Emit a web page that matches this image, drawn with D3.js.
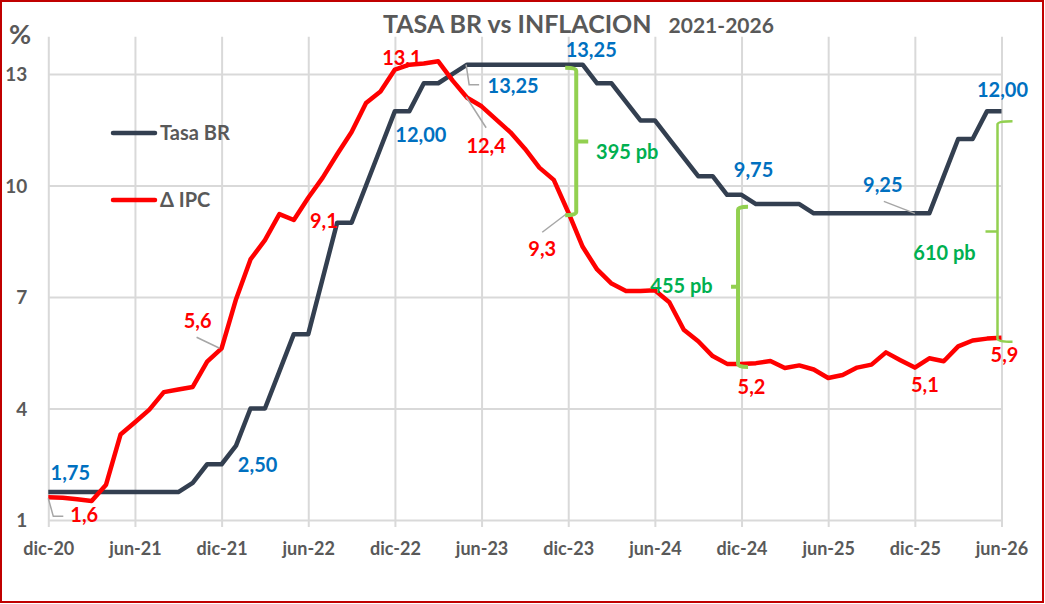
<!DOCTYPE html>
<html lang="es">
<head>
    <meta charset="UTF-8">
    <title>Tasa BR vs Inflacion 2021-2026</title>
    <script src="https://d3js.org/d3.v7.min.js"></script>
    <style>
        body { margin: 0; background: #fff; }
        svg text { font-family: Lato, "Open Sans", sans-serif; font-weight: 700; }
        .grid line { stroke: #d9d9d9; stroke-width: 2px; }
        .grid text { fill: #595959; font-size: 18px; }
        .title { fill: #595959; font-size: 25px; }
        .legend-text { fill: #595959; font-size: 20px; }
        .data-label { font-size: 20px; text-anchor: middle; }
        .leader { fill: none; stroke: #a6a6a6; stroke-width: 1.5px; }
        .brace { fill: none; stroke: #92d050; stroke-linejoin: round; }
    </style>
</head>
<body>
    <svg width="1045" height="604"></svg>
    <script>
        // Monthly series, dic-20 .. jun-26
        const tickLabels = ["dic-20", "jun-21", "dic-21", "jun-22", "dic-22", "jun-23",
                            "dic-23", "jun-24", "dic-24", "jun-25", "dic-25", "jun-26"];
        const yTicks = [1, 4, 7, 10, 13];

        const tasaBR = [1.75, 1.75, 1.75, 1.75, 1.75, 1.75, 1.75, 1.75, 1.75, 1.75, 2.00, 2.50,
                        2.50, 3.00, 4.00, 4.00, 5.00, 6.00, 6.00, 7.50, 9.00, 9.00, 10.00, 11.00,
                        12.00, 12.00, 12.75, 12.75, 13.00, 13.25, 13.25, 13.25, 13.25, 13.25, 13.25, 13.25,
                        13.25, 13.25, 12.75, 12.75, 12.25, 11.75, 11.75, 11.25, 10.75, 10.25, 10.25, 9.75,
                        9.75, 9.50, 9.50, 9.50, 9.50, 9.25, 9.25, 9.25, 9.25, 9.25, 9.25, 9.25,
                        9.25, 9.25, 10.25, 11.25, 11.25, 12.00, 12.00];

        const ipc = [1.61, 1.60, 1.56, 1.51, 1.95, 3.30, 3.63, 3.97, 4.44, 4.51, 4.58, 5.26,
                     5.62, 6.94, 8.01, 8.53, 9.23, 9.07, 9.67, 10.21, 10.84, 11.44, 12.22, 12.53,
                     13.12, 13.25, 13.28, 13.34, 12.82, 12.36, 12.13, 11.78, 11.43, 10.99, 10.48, 10.15,
                     9.28, 8.35, 7.74, 7.36, 7.16, 7.16, 7.18, 6.86, 6.12, 5.81, 5.41, 5.20,
                     5.20, 5.22, 5.28, 5.09, 5.16, 5.05, 4.82, 4.90, 5.10, 5.18, 5.51, 5.30,
                     5.10, 5.35, 5.27, 5.67, 5.83, 5.88, 5.90];

        // point labels: [month index, text]
        const tasaLabels = [[0, "1,75"], [12, "2,50"], [24, "12,00"], [29, "13,25"],
                            [36, "13,25"], [48, "9,75"], [60, "9,25"], [66, "12,00"]];
        const ipcLabels = [[0, "1,6"], [12, "5,6"], [17, "9,1"], [24, "13,1"], [29, "12,4"],
                           [36, "9,3"], [48, "5,2"], [60, "5,1"], [66, "5,9"]];
        // gap between both series: [month index, text]
        const spreads = [[36, "395 pb"], [48, "455 pb"], [66, "610 pb"]];

        const width = 1045, height = 604;
        const plot = {left: 48.3, right: 1001.5, top: 36.8, bottom: 520};
        const navy = "#333f50", red = "#ff0000", blue = "#0070c0", green = "#00b050";

        const svg = d3.select("svg");

        const x = d3.scaleLinear().domain([0, tasaBR.length - 1]).range([plot.left, plot.right]);
        const y = d3.scaleLinear().domain([1, 14]).range([plot.bottom, plot.top]);

        // vertical grid + x labels
        const xAxis = svg.append("g")
            .attr("class", "grid")
            .attr("transform", `translate(0,${plot.bottom})`)
            .call(d3.axisBottom(x)
                .tickValues(d3.range(0, tasaBR.length, 6))
                .tickFormat((d, i) => tickLabels[i])
                .tickSizeInner(-(plot.bottom - plot.top))
                .tickSizeOuter(0));
        xAxis.select(".domain").remove();
        xAxis.selectAll(".tick line").attr("y1", 7);
        xAxis.selectAll(".tick text").attr("y", 35).attr("dy", 0).style("font-size", "18px");

        // horizontal grid + y labels
        const yAxis = svg.append("g")
            .attr("class", "grid")
            .attr("transform", `translate(${plot.left},0)`)
            .call(d3.axisLeft(y)
                .tickValues(yTicks)
                .tickSizeInner(-(plot.right - plot.left))
                .tickSizeOuter(0)
                .tickPadding(21));
        yAxis.select(".domain").remove();
        yAxis.selectAll(".tick text").attr("dy", "0.36em").style("font-size", "19px");

        svg.append("text")
            .attr("x", 9).attr("y", 44)
            .style("fill", "#595959").style("font-size", "27px")
            .text("%");

        // title
        const title = svg.append("text").attr("class", "title").attr("x", 383).attr("y", 33);
        title.append("tspan").text("TASA BR vs INFLACION");
        title.append("tspan").attr("dx", 17).style("font-size", "21px").text("2021-2026");

        // series
        const line = d3.line().x((d, i) => x(i)).y(d => y(d));
        svg.append("path").datum(tasaBR)
            .attr("d", line)
            .attr("fill", "none").attr("stroke", navy)
            .attr("stroke-width", 4.5).attr("stroke-linejoin", "round");
        svg.append("path").datum(ipc)
            .attr("d", line)
            .attr("fill", "none").attr("stroke", red)
            .attr("stroke-width", 4.5).attr("stroke-linejoin", "round");

        // legend
        const legend = svg.append("g");
        [["Tasa BR", navy, 133], ["\u0394 IPC", red, 200]].forEach(([name, color, ly]) => {
            legend.append("line")
                .attr("x1", 113).attr("x2", 155).attr("y1", ly).attr("y2", ly)
                .attr("stroke", color).attr("stroke-width", 4.5).attr("stroke-linecap", "round");
            legend.append("text").attr("class", "legend-text")
                .attr("x", 160).attr("y", ly).attr("dy", "0.35em")
                .text(name);
        });

        // label offsets from the labelled point (dx, dy to text baseline centre)
        const tasaOffsets = {0: [22, -12], 12: [36, 8], 24: [26, 31], 29: [46, 28],
                             36: [23, -8], 48: [12, -18], 60: [-32, -21], 66: [1, -14]};
        const ipcOffsets = {0: [36, 25], 12: [-24, -20], 17: [30, 8], 24: [7, -5], 29: [19, 55],
                            36: [-26, 44], 48: [10, 30], 60: [10, 24], 66: [3, 24]};

        // leader lines, as offsets from the labelled point
        const leaders = [
            [ipc, 0, [[0, 1], [5, 19], [15, 19]]],
            [ipc, 12, [[-25, -11], [-2, 0]]],
            [tasaBR, 29, [[-1, 0], [2, 20], [12, 20]]],
            [ipc, 29, [[-1, -1], [19, 30]]],
            [ipc, 36, [[-26, 20], [-1, 1]]],
            [tasaBR, 60, [[-31, -12], [0, 0]]]
        ];
        leaders.forEach(([series, i, pts]) => {
            svg.append("path").attr("class", "leader")
                .attr("d", d3.line()(pts.map(([dx, dy]) => [x(i) + dx, y(series[i]) + dy])));
        });

        svg.append("g").selectAll("text")
            .data(tasaLabels).enter().append("text")
            .attr("class", "data-label").style("fill", blue)
            .attr("x", d => x(d[0]) + tasaOffsets[d[0]][0])
            .attr("y", d => y(tasaBR[d[0]]) + tasaOffsets[d[0]][1])
            .text(d => d[1]);

        svg.append("g").selectAll("text")
            .data(ipcLabels).enter().append("text")
            .attr("class", "data-label").style("fill", red)
            .attr("x", d => x(d[0]) + ipcOffsets[d[0]][0])
            .attr("y", d => y(ipc[d[0]]) + ipcOffsets[d[0]][1])
            .text(d => d[1]);

        // curly brackets between Tasa BR and IPC
        // dx: shift from month, dir: -1 ends point left, +1 ends point right
        const braceStyle = {
            36: {dx: 8, dir: -1, top: 3, bot: 3, end: 11, mid: 12, w: 4, tx: 59, ty: 21},
            48: {dx: -3.5, dir: 1, top: 12, bot: 3, end: 10, mid: 7, w: 4, tx: -60, ty: 14},
            66: {dx: -4, dir: 1, top: 10, bot: 4, end: 15, mid: 12, w: 2.5, tx: -57, ty: 35}
        };
        spreads.forEach(([i, txt]) => {
            const s = braceStyle[i];
            const bx = x(i) + s.dx;
            const y0 = y(tasaBR[i]) + s.top, y1 = y(ipc[i]) + s.bot, ym = (y0 + y1) / 2;
            const p = d3.path();
            p.moveTo(bx + s.dir * s.end, y0);
            p.quadraticCurveTo(bx, y0, bx, y0 + 3);
            p.lineTo(bx, y1 - 3);
            p.quadraticCurveTo(bx, y1, bx + s.dir * s.end, y1);
            p.moveTo(bx, ym);
            p.lineTo(bx - s.dir * s.mid, ym);
            svg.append("path").attr("class", "brace")
                .attr("stroke-width", s.w).attr("d", p.toString());
            svg.append("text").attr("class", "data-label").style("fill", green)
                .attr("x", x(i) + s.tx)
                .attr("y", (y(tasaBR[i]) + y(ipc[i])) / 2 + s.ty)
                .text(txt);
        });

        // outer border
        svg.append("rect")
            .attr("x", 1).attr("y", 1).attr("width", 1042).attr("height", 601)
            .attr("fill", "none").attr("stroke", "#c00000").attr("stroke-width", 2);
    </script>
</body>
</html>
